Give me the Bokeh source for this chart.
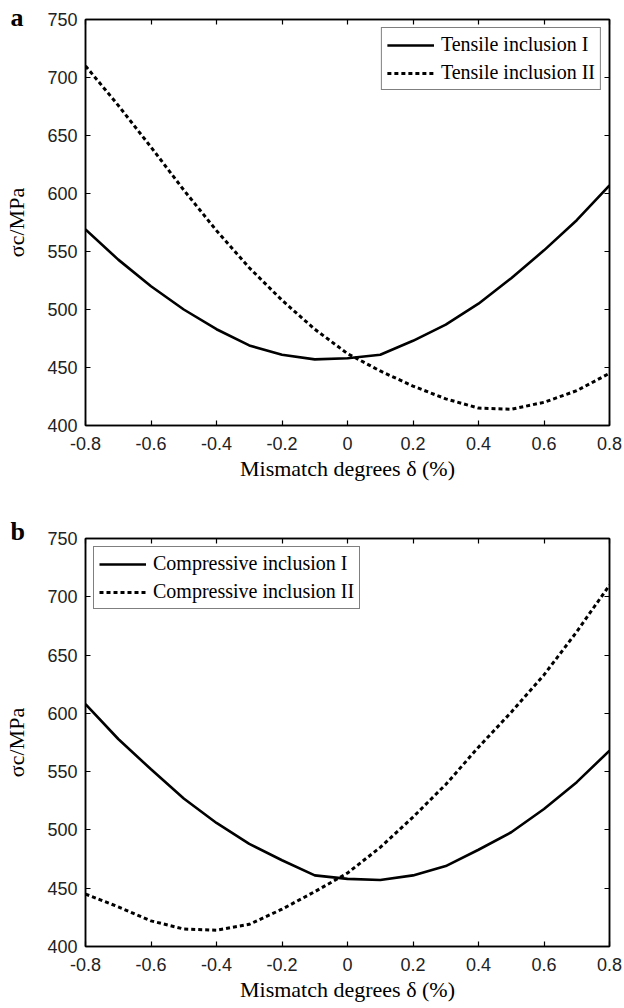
from bokeh.plotting import figure
from bokeh.models import (LinearAxis, FixedTicker, Legend, LegendItem, Range1d, Title)
from bokeh.layouts import column
from bokeh.embed import file_html
from bokeh.resources import INLINE

# ---------------- data ----------------
delta = [-0.8, -0.7, -0.6, -0.5, -0.4, -0.3, -0.2, -0.1, 0.0,
         0.1, 0.2, 0.3, 0.4, 0.5, 0.6, 0.7, 0.8]

tensile_I = [569, 543, 520, 500, 483, 469, 461, 457, 458,
             461, 473, 487, 505, 527, 551, 577, 607]
tensile_II = [710, 676, 640, 603, 568, 536, 508, 483, 462,
              447, 434, 423, 415, 414, 420, 430, 445]

compressive_I = [608, 578, 552, 527, 506, 488, 474, 461, 458,
                 457, 461, 469, 483, 498, 518, 541, 568]
compressive_II = [445, 434, 422, 415, 414, 419, 432, 447, 463,
                  485, 511, 539, 571, 601, 633, 670, 710]

x_ticks = [-0.8, -0.6, -0.4, -0.2, 0, 0.2, 0.4, 0.6, 0.8]
x_tick_labels = ["-0.8", "-0.6", "-0.4", "-0.2", "0", "0.2", "0.4", "0.6", "0.8"]
y_ticks = [400, 450, 500, 550, 600, 650, 700, 750]

legend_a = ["Tensile inclusion I", "Tensile inclusion II"]
legend_b = ["Compressive inclusion I", "Compressive inclusion II"]

x_title = "Mismatch degrees δ (%)"
y_title = "σc/MPa"

SERIF = "Liberation Serif"
SANS = "Liberation Sans"


def make_panel(letter, letter_standoff, y1, y2, names, legend_loc, height, top, bottom):
    p = figure(width=624, height=height, output_backend="svg", toolbar_location=None,
               x_range=Range1d(-0.8, 0.8), y_range=Range1d(400, 750),
               min_border_left=85, min_border_right=15,
               min_border_top=top, min_border_bottom=bottom, title=None)
    p.xaxis.visible = False
    p.yaxis.visible = False
    p.grid.visible = False
    p.outline_line_color = "black"
    p.outline_line_width = 1.5
    p.background_fill_color = "white"
    p.border_fill_color = "white"

    def style(ax, labels=True):
        ax.axis_line_color = "black"
        ax.axis_line_width = 1.5
        ax.major_tick_in = 5
        ax.major_tick_out = 0
        ax.minor_tick_line_color = None
        ax.major_tick_line_color = "black"
        ax.major_tick_line_width = 1.2
        ax.major_label_text_font = SANS
        ax.major_label_text_font_size = "18px" if labels else "0px"
        ax.major_label_text_color = "#222222"

    xb = LinearAxis(ticker=FixedTicker(ticks=x_ticks),
                    major_label_overrides={t: l for t, l in zip(x_ticks, x_tick_labels)})
    style(xb)
    xb.major_label_standoff = 11
    xb.axis_label = x_title
    xb.axis_label_text_font = SERIF
    xb.axis_label_text_font_size = "22px"
    xb.axis_label_text_font_style = "normal"
    xb.axis_label_text_color = "black"
    xb.axis_label_standoff = 3
    p.add_layout(xb, "below")

    yl = LinearAxis(ticker=FixedTicker(ticks=y_ticks))
    style(yl)
    yl.major_label_standoff = 8
    yl.axis_label = y_title
    yl.axis_label_text_font = SERIF
    yl.axis_label_text_font_size = "22px"
    yl.axis_label_text_font_style = "normal"
    yl.axis_label_text_color = "black"
    yl.axis_label_standoff = 15
    p.add_layout(yl, "left")

    xt = LinearAxis(ticker=FixedTicker(ticks=x_ticks),
                    major_label_overrides={t: "" for t in x_ticks})
    style(xt, labels=False)
    xt.major_label_standoff = 0
    p.add_layout(xt, "above")

    yr = LinearAxis(ticker=FixedTicker(ticks=y_ticks),
                    major_label_overrides={t: "" for t in y_ticks})
    style(yr, labels=False)
    yr.major_label_standoff = 0
    p.add_layout(yr, "right")

    # panel letter as a title that sits beside the top-left corner
    p.add_layout(Title(text=letter, align="left", offset=-75, standoff=letter_standoff,
                       text_font=SERIF, text_font_style="bold", text_font_size="26px",
                       text_color="black"), "above")

    r1 = p.line(delta, y1, line_color="black", line_width=2.6)
    r2 = p.line(delta, y2, line_color="black", line_width=3, line_dash="4 3")

    leg = Legend(items=[LegendItem(label=names[0], renderers=[r1]),
                        LegendItem(label=names[1], renderers=[r2])],
                 location=legend_loc)
    leg.label_text_font = SERIF
    leg.label_text_font_size = "20px"
    leg.label_text_color = "black"
    leg.glyph_width = 47
    leg.glyph_height = 22
    leg.label_height = 22
    leg.label_standoff = 7
    leg.padding = 5
    leg.spacing = 5
    leg.margin = 8
    leg.border_line_color = "black"
    leg.border_line_width = 1.2
    leg.background_fill_color = "white"
    leg.background_fill_alpha = 1.0
    p.add_layout(leg, "center")
    return p


pa = make_panel("a", -25, tensile_I, tensile_II, legend_a, "top_right", 490, 19, 65)
pb = make_panel("b", -15, compressive_I, compressive_II, legend_b, "top_left", 518, 48, 62)

layout = column(pa, pb, spacing=0)
open("out.html", "w").write(file_html(layout, INLINE))
